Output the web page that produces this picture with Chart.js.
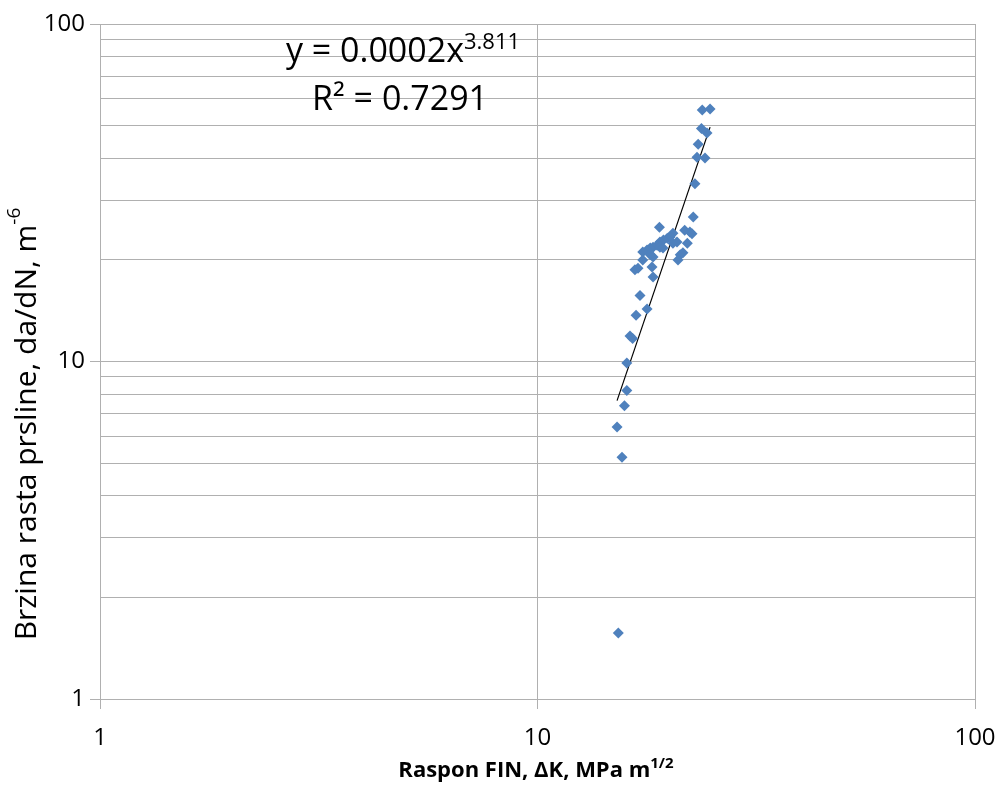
<!DOCTYPE html>
<html>
<head>
<meta charset="utf-8">
<script src="https://cdn.jsdelivr.net/npm/chart.js@4/dist/chart.umd.min.js"></script>
<style>
  html, body { margin: 0; padding: 0; background: #fff; }
  canvas { display: block; }
</style>
</head>
<body>
<canvas id="c" width="1003" height="794"></canvas>
<script>
// Stress intensity factor range, MPa m^1/2
const kValues = [24.8, 23.8, 23.7, 24.4, 23.3, 23.15, 24.15, 22.9, 22.7, 19.0,
                 22.3, 21.7, 22.55, 20.4, 20.1, 19.8, 19.4, 19.05, 18.76, 18.37,
                 18.1, 17.8, 17.4, 19.05, 19.36, 20.4, 20.84, 22.0, 21.2, 21.5,
                 20.95, 18.37, 18.1, 17.4, 16.97, 16.7, 18.27, 18.37, 17.15, 17.8,
                 16.8, 16.27, 16.5, 16.0, 16.0, 15.8, 15.2, 15.6, 15.3];
// Crack growth rate da/dN
const rateValues = [56.0, 55.6, 49.0, 47.5, 44.0, 40.3, 40.1, 33.6, 26.8, 25.0,
                    24.2, 24.5, 23.9, 24.0, 23.4, 23.2, 22.9, 22.6, 22.1, 21.8,
                    21.7, 21.4, 21.1, 21.8, 21.7, 22.4, 22.6, 22.4, 20.7, 21.0,
                    20.0, 20.4, 20.7, 20.0, 18.9, 18.7, 19.05, 17.8, 15.7, 14.3,
                    13.7, 11.9, 11.7, 9.9, 8.2, 7.4, 6.4, 5.2, 1.57];

// Power-law trend  y = a * x^b
const trendA = 0.00024;
const trendB = 3.811;
const trendR2 = 0.7291;

// Axis ticks
const xTickValues = [1, 10, 100];
const yLabelValues = [1, 10, 100];
const yGridValues = [1, 2, 3, 4, 5, 6, 7, 8, 9, 10, 20, 30, 40, 50, 60, 70, 80, 90, 100];

const FAMILY = '"Open Sans", "Noto Sans", sans-serif';
const GRID = '#b0b0b0';
const BLUE = '#4F81BD';

const points = kValues.map((k, i) => ({ x: k, y: rateValues[i] }));
const kMin = Math.min(...kValues);
const kMax = Math.max(...kValues);
const trendPoints = [kMin, kMax].map(k => ({ x: k, y: trendA * Math.pow(k, trendB) }));

function drawRich(ctx, parts, x, y, align) {
  let total = 0;
  parts.forEach(p => { ctx.font = p.font; p.w = ctx.measureText(p.text).width; total += p.w; });
  let cx = align === 'center' ? x - total / 2 : x;
  ctx.textAlign = 'left';
  ctx.textBaseline = 'alphabetic';
  parts.forEach(p => {
    ctx.font = p.font;
    ctx.fillText(p.text, cx, y - (p.rise || 0));
    cx += p.w;
  });
}

const annotations = {
  id: 'annotations',
  afterDraw(chart) {
    const ctx = chart.ctx;
    ctx.save();
    ctx.fillStyle = '#000';

    // trend equation and R²
    drawRich(ctx, [
      { text: 'y = ' + trendA.toFixed(4) + 'x', font: '34px ' + FAMILY },
      { text: trendB.toFixed(3), font: '22px ' + FAMILY, rise: 13 }
    ], 403, 62, 'center');
    drawRich(ctx, [
      { text: 'R² = ' + trendR2.toFixed(4), font: '34px ' + FAMILY }
    ], 400, 110, 'center');

    // x-axis title
    drawRich(ctx, [
      { text: 'Raspon FIN, ΔK, MPa m', font: 'bold 22px ' + FAMILY },
      { text: '1/2', font: 'bold 15px ' + FAMILY, rise: 9 }
    ], 536, 777, 'center');

    // y-axis title
    ctx.translate(36, 424);
    ctx.rotate(-Math.PI / 2);
    drawRich(ctx, [
      { text: 'Brzina rasta prsline, da/dN, m', font: '30px ' + FAMILY },
      { text: '-6', font: '19px ' + FAMILY, rise: 16 }
    ], 0, 0, 'center');
    ctx.restore();
  }
};

new Chart(document.getElementById('c'), {
  data: {
    datasets: [
      {
        type: 'scatter',
        data: points,
        pointStyle: 'rectRot',
        pointRadius: 5.5,
        pointBackgroundColor: BLUE,
        pointBorderColor: BLUE,
        pointBorderWidth: 0
      },
      {
        type: 'line',
        data: trendPoints,
        borderColor: '#000',
        borderWidth: 1.2,
        pointRadius: 0,
        fill: false
      }
    ]
  },
  options: {
    responsive: false,
    devicePixelRatio: 1,
    animation: false,
    layout: { padding: { top: 24, right: 28, left: 0, bottom: 0 } },
    plugins: { legend: { display: false }, tooltip: { enabled: false } },
    scales: {
      x: {
        type: 'logarithmic',
        min: 1,
        max: 100,
        afterBuildTicks: s => { s.ticks = xTickValues.map(v => ({ value: v })); },
        afterFit: s => { s.height = 95; s.paddingLeft = 0; s.paddingRight = 0; },
        ticks: {
          color: '#000',
          font: { family: FAMILY, size: 24 },
          padding: 15,
          maxRotation: 0,
          autoSkip: false,
          callback: v => String(v)
        },
        grid: { color: GRID, lineWidth: 1, tickLength: 10, tickColor: GRID },
        border: { color: GRID, width: 1 }
      },
      y: {
        type: 'logarithmic',
        min: 1,
        max: 100,
        afterBuildTicks: s => { s.ticks = yGridValues.map(v => ({ value: v })); },
        afterFit: s => { s.width = 100; s.paddingTop = 0; s.paddingBottom = 0; },
        ticks: {
          color: '#000',
          font: { family: FAMILY, size: 24 },
          padding: 5,
          autoSkip: false,
          callback: v => (yLabelValues.includes(v) ? String(v) : '')
        },
        grid: {
          color: GRID,
          lineWidth: 1,
          tickLength: 10,
          tickColor: c => (c.tick && yLabelValues.includes(c.tick.value) ? GRID : 'rgba(0,0,0,0)')
        },
        border: { color: GRID, width: 1 }
      }
    }
  },
  plugins: [annotations]
});
</script>
</body>
</html>
